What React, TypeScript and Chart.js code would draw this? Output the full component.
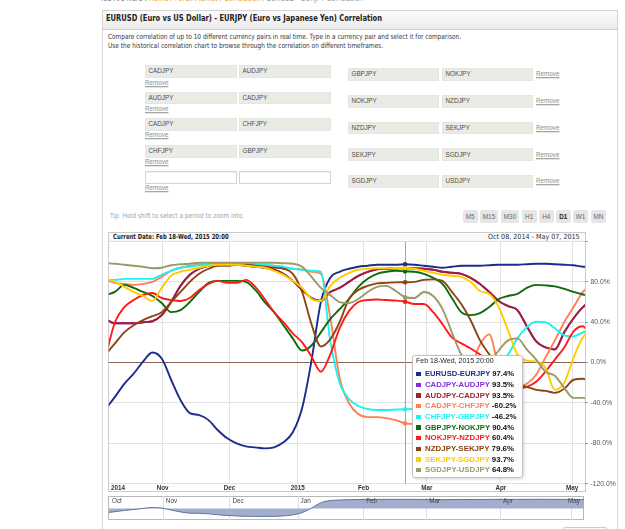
import React, { useEffect, useLayoutEffect, useRef } from 'react';
import { Chart, registerables } from 'chart.js';

Chart.register(...registerables);

const SANS = '"Liberation Sans", Arial, sans-serif';
const VSANS = '"DejaVu Sans", Verdana, sans-serif';
Chart.defaults.font.family = SANS;

// ---------------- data ----------------
// trading-session index of each sample (Oct 08 2014 = 0 ... May 07 2015 ≈ 152.7)
const SESSION_INDEX = [-1, 2, 5, 8, 11, 14, 17, 20, 23, 26, 29, 32, 35, 38, 41, 44, 47, 50, 53, 56, 59, 62, 65, 68, 71, 74, 77, 80, 83, 86, 89, 92, 95, 98, 101, 104, 107, 110, 113, 116, 119, 122, 125, 128, 131, 134, 137, 140, 143, 146, 149, 152, 155];
const X_MIN = 0;
const X_MAX = 152.66;
const MONTH_TICK_POS = [3.0, 17.3, 38.7, 60.6, 81.7, 102.0, 125.7, 148.5];
const MONTH_TICK_LABELS = ['2014', 'Nov', 'Dec', '2015', 'Feb', 'Mar', 'Apr', 'May'];
const NAV_TICK_POS = [0, 17.3, 38.7, 60.6, 81.7, 102.0, 125.7, 148.5];
const NAV_TICK_LABELS = ['Oct', 'Nov', 'Dec', 'Jan', 'Feb', 'Mar', 'Apr', 'May'];
const Y_TICKS = [-120, -80, -40, 0, 40, 80, 120];

const EURUSD_EURJPY = [-46, -34, -21, -11, 1, 10, 4, -17, -37, -50, -52, -57, -67, -75, -80, -83, -84, -85, -84, -79, -69, -45, 2, 60, 84, 90, 93, 95, 96, 97, 97, 97, 97.4, 97, 96, 95, 94, 95, 96, 96, 96, 96.5, 97, 97, 97, 97.5, 98, 98, 97.5, 97, 96.5, 95, 95];
const CADJPY_AUDJPY = [43, 39, 39, 39, 40, 41, 47, 60, 76, 87, 93, 96, 97.5, 97.5, 97, 96, 95, 94, 92, 88, 81, 72, 64, 61, 70, 74, 80, 86, 90, 92.5, 93, 93.5, 93.5, 93.5, 93, 92, 90, 89, 88, 84, 78, 70, 61, 56, 52, 36, 21, 15, 13, 30, 44, 55, 62];
const AUDJPY_CADJPY = [43, 39, 39, 39, 40, 41, 47, 60, 76, 87, 93, 96, 97.5, 97.5, 97, 96, 95, 94, 92, 88, 81, 72, 64, 61, 70, 74, 80, 86, 90, 92.5, 93, 93.5, 93.5, 93.5, 93, 92, 90, 89, 88, 84, 78, 70, 61, 56, 52, 36, 21, 15, 13, 30, 44, 55, 62];
const CADJPY_CHFJPY = [82, 79, 78, 77, 78, 80, 85, 91, 94, 96, 97, 97.5, 98, 98, 97.5, 97, 97, 96.5, 96, 94, 93, 92, 90, 88, 45, -15, -40, -51, -54, -54, -55, -57, -60.2, -61, -60, -55, -45, -30, -15, -5, 18, 28, -5, -20, -24, -21, -12, 5, 22, 40, 55, 70, 78];
const CHFJPY_GBPJPY = [82, 82, 83, 83, 83, 83, 87, 91, 94, 95, 96.5, 97, 97.5, 97.5, 97.5, 97.5, 97, 97, 96, 95, 93, 92, 91, 90, 22, -20, -36, -43, -46, -47, -47, -46.5, -46.2, -46, -46, -44, -38, -30, -22, -16, -12, -8, -2, 8, 24, 35, 40.5, 40, 34, 27, 26, 30, 32];
const GBPJPY_NOKJPY = [67, 70, 77, 74, 70, 66, 59, 50, 52, 60, 70, 79, 81, 81, 81, 80, 72, 60, 50, 37, 24, 12, 17, 30, 43, 53, 63, 75, 83, 88, 90, 91, 90.4, 90, 88, 84, 78, 64, 50, 47, 49, 55, 63, 66, 68, 74, 77, 76.5, 75.5, 73, 70, 67.5, 66];
const NOKJPY_NZDJPY = [6, 40, 55, 62, 67, 69, 64, 62, 61, 64, 72, 78, 81, 79, 79, 82, 75, 63, 50, 40, 29, 20, 6, -9, 8, 34, 51, 60, 62, 62.5, 62, 61.5, 60.4, 58, 58, 50, 38, 25, 19, 14, 8, 0, -10, -20, -26, -24, -19, -9, 3, 15, 31, 36, 22];
const NZDJPY_SEKJPY = [8, 19, 30, 37, 42, 46, 50, 60, 70, 80, 88, 93, 96, 96, 97, 97, 96, 95, 94, 93, 88, 70, 38, 16, 23, 40, 63, 72, 76, 78.5, 79, 79.5, 79.6, 80, 82, 82.5, 81, 70, 58, 42, 22, 8, -5, -15, -22, -24, -27, -28, -30, -26, -17, -16, -21];
const SEKJPY_SGDJPY = [83, 80, 75, 70, 66, 61, 74, 86, 90, 92, 94, 96, 97, 97, 97, 96, 95, 94, 91, 87, 81, 74, 63, 61, 76, 84, 89, 92, 93, 93.5, 93.5, 93.7, 93.7, 93, 91, 89, 87, 86, 85, 80, 71, 68, 55, 32, 8, 2, 1, -5, -27, -20, 5, 25, 35];
const SGDJPY_USDJPY = [98.5, 98, 97, 96, 95, 93.5, 94, 96.5, 97.5, 98, 99, 99, 99, 99, 99, 99, 99, 99, 99, 98.5, 98, 95, 85, 74, 67, 60, 59, 63, 70, 75, 76, 71, 64.8, 64, 70, 66, 53, 30, 8, -2, -5, 0, 12, 22, 24, 13, 3, -9, -13, -25, -35, -35, -38];

const SERIES_NAMES = ['EURUSD-EURJPY', 'CADJPY-AUDJPY', 'AUDJPY-CADJPY', 'CADJPY-CHFJPY', 'CHFJPY-GBPJPY', 'GBPJPY-NOKJPY', 'NOKJPY-NZDJPY', 'NZDJPY-SEKJPY', 'SEKJPY-SGDJPY', 'SGDJPY-USDJPY'];
const SERIES_COLORS = ['#1c2c8c', '#8a2be2', '#a21f2f', '#ff7f50', '#1ff0f0', '#0c6a0c', '#ff1a1a', '#8b4513', '#ffcc00', '#9a9a68'];
const SERIES_VALUES = [EURUSD_EURJPY, CADJPY_AUDJPY, AUDJPY_CADJPY, CADJPY_CHFJPY, CHFJPY_GBPJPY, GBPJPY_NOKJPY, NOKJPY_NZDJPY, NZDJPY_SEKJPY, SEKJPY_SGDJPY, SGDJPY_USDJPY];

const CROSS_INDEX = 32;
const CROSS_LABEL = 'Feb 18-Wed, 2015 20:00';
const RANGE_LABEL = 'Oct 08, 2014 - May 07, 2015';

const LEFT_PAIRS = [['CADJPY', 'AUDJPY'], ['AUDJPY', 'CADJPY'], ['CADJPY', 'CHFJPY'], ['CHFJPY', 'GBPJPY'], ['', '']];
const RIGHT_PAIRS = [['GBPJPY', 'NOKJPY'], ['NOKJPY', 'NZDJPY'], ['NZDJPY', 'SEKJPY'], ['SEKJPY', 'SGDJPY'], ['SGDJPY', 'USDJPY']];
const TIMEFRAMES = ['M5', 'M15', 'M30', 'H1', 'H4', 'D1', 'W1', 'MN'];
const ACTIVE_TIMEFRAME = 'D1';

// ---------------- layout (positions only) ----------------
const LEFT_ROW_TOP = [65, 91.7, 118, 145, 171];
const LEFT_REMOVE_Y = [82.6, 108.9, 135.3, 161.7, 187.9];
const RIGHT_ROW_TOP = [68, 95, 121.7, 148.3, 175];
const BTN_LEFT = [462.7, 480, 501, 521.7, 539, 556, 572.7, 591];
const BTN_W = [15, 18, 18, 15, 14.5, 14.5, 15.5, 15];

type TxtProps = {
  x: number; y: number; w?: number; sx?: number; size: number; color?: string;
  bold?: boolean; family?: string; underline?: boolean; children: React.ReactNode;
};

function Txt({ x, y, w, sx = 1, size, color = '#333', bold = false, family = SANS, underline = false, children }: TxtProps) {
  const ref = useRef<HTMLSpanElement>(null);
  useLayoutEffect(() => {
    const el = ref.current;
    if (!el) return;
    let k = sx;
    if (w) {
      const nat = el.getBoundingClientRect().width / sx;
      if (nat > 0) k = w / nat;
    }
    el.style.transform = `translateY(-50%) scaleX(${k})`;
  }, [w, sx]);
  return (
    <span
      ref={ref}
      style={{
        position: 'absolute', left: x, top: y, display: 'inline-block', whiteSpace: 'nowrap',
        fontSize: size, lineHeight: 1.2, fontFamily: family, fontWeight: bold ? 700 : 400, color,
        textDecoration: underline ? 'underline' : 'none', transformOrigin: '0 50%',
        transform: `translateY(-50%) scaleX(${sx})`,
      }}
    >
      {children}
    </span>
  );
}

function MainChart() {
  const ref = useRef<HTMLCanvasElement>(null);
  useEffect(() => {
    const crosshair = {
      id: 'crosshair',
      beforeDatasetsDraw(chart: any) {
        const { ctx, chartArea, scales } = chart;
        const x = Math.round(scales.x.getPixelForValue(SESSION_INDEX[CROSS_INDEX])) + 0.5;
        ctx.save();
        ctx.strokeStyle = '#a4a4a4';
        ctx.lineWidth = 1;
        ctx.beginPath();
        ctx.moveTo(x, chartArea.top);
        ctx.lineTo(x, chartArea.bottom);
        ctx.stroke();
        ctx.restore();
      },
    };
    const chart = new Chart(ref.current as HTMLCanvasElement, {
      type: 'line',
      data: {
        datasets: SERIES_VALUES.map((vals, k) => ({
          label: SERIES_NAMES[k],
          data: vals.map((v, i) => ({ x: SESSION_INDEX[i], y: v })),
          borderColor: SERIES_COLORS[k],
          backgroundColor: SERIES_COLORS[k],
          borderWidth: 1.9,
          cubicInterpolationMode: 'monotone',
          fill: false,
          pointRadius: (c: any) => (c.dataIndex === CROSS_INDEX ? 2.3 : 0),
          pointBorderWidth: 0,
          order: -k,
        })),
      },
      options: {
        responsive: false,
        animation: false,
        events: [],
        layout: { padding: { left: 0.7, top: 0.5, right: 0, bottom: 0 } },
        plugins: { legend: { display: false }, tooltip: { enabled: false } },
        scales: {
          x: {
            type: 'linear',
            min: X_MIN,
            max: X_MAX,
            bounds: 'data',
            afterBuildTicks: (scale: any) => { scale.ticks = MONTH_TICK_POS.map((v) => ({ value: v })); },
            afterFit: (scale: any) => { scale.height = 9.3; scale.paddingLeft = 0; scale.paddingRight = 0; },
            ticks: {
              autoSkip: false, maxRotation: 0, minRotation: 0, padding: 1,
              font: { family: SANS, size: 6.3, weight: 'bold' }, color: '#333',
              callback: (_v: any, i: number) => MONTH_TICK_LABELS[i],
            },
            grid: {
              drawTicks: false,
              color: (c: any) => (c.tick && c.tick.value === MONTH_TICK_POS[0] ? 'rgba(0,0,0,0)' : '#e3e3e3'),
            },
            border: { display: false },
          },
          y: {
            type: 'linear',
            position: 'right',
            min: -120,
            max: 120,
            afterBuildTicks: (scale: any) => { scale.ticks = Y_TICKS.map((v) => ({ value: v })); },
            afterFit: (scale: any) => { scale.width = 40; scale.paddingTop = 0; scale.paddingBottom = 0; },
            ticks: {
              padding: 2.5, font: { family: SANS, size: 6.8 }, color: '#555',
              callback: (v: any) => (v === 120 ? '' : `${Number(v).toFixed(1)}%`),
            },
            grid: {
              color: (c: any) => (c.tick && c.tick.value === 0 ? '#8a6656' : '#e1e1e1'),
              tickColor: '#7f9fd3',
              tickLength: 3,
            },
            border: { display: false },
          },
        },
      } as any,
      plugins: [crosshair],
    } as any);
    return () => chart.destroy();
  }, []);
  return <canvas ref={ref} width={517} height={252} style={{ position: 'absolute', left: 108, top: 241, width: 517, height: 252 }} />;
}

function Navigator() {
  const ref = useRef<HTMLCanvasElement>(null);
  useEffect(() => {
    const navDecor = {
      id: 'navDecor',
      beforeDatasetsDraw(chart: any) {
        const { ctx, chartArea, scales } = chart;
        ctx.save();
        ctx.strokeStyle = '#dedede';
        ctx.lineWidth = 1;
        NAV_TICK_POS.forEach((v) => {
          if (v <= X_MIN) return;
          const x = Math.round(scales.x.getPixelForValue(v)) + 0.5;
          ctx.beginPath();
          ctx.moveTo(x, chartArea.top);
          ctx.lineTo(x, chartArea.bottom);
          ctx.stroke();
        });
        ctx.restore();
      },
      afterDatasetsDraw(chart: any) {
        const { ctx, chartArea, scales } = chart;
        ctx.save();
        ctx.font = `6.3px ${SANS}`;
        ctx.fillStyle = '#444';
        ctx.textBaseline = 'middle';
        NAV_TICK_POS.forEach((v, i) => {
          const w = ctx.measureText(NAV_TICK_LABELS[i]).width;
          const x = Math.min(scales.x.getPixelForValue(v) + 3, chartArea.right - w - 4);
          ctx.fillText(NAV_TICK_LABELS[i], x, chartArea.top + 5);
        });
        ctx.restore();
      },
    };
    const chart = new Chart(ref.current as HTMLCanvasElement, {
      type: 'line',
      data: {
        datasets: [{
          label: SERIES_NAMES[0],
          data: EURUSD_EURJPY.map((v, i) => ({ x: SESSION_INDEX[i], y: v })),
          borderColor: '#62719f',
          backgroundColor: '#a3aece',
          borderWidth: 1,
          fill: 'origin',
          pointRadius: 0,
          cubicInterpolationMode: 'monotone',
        }],
      },
      options: {
        responsive: false,
        animation: false,
        events: [],
        layout: { padding: 0 },
        plugins: { legend: { display: false }, tooltip: { enabled: false } },
        scales: {
          x: { type: 'linear', min: X_MIN, max: X_MAX, bounds: 'data', display: false },
          y: { type: 'linear', min: -123, max: 133, display: false },
        },
      } as any,
      plugins: [navDecor],
    } as any);
    return () => chart.destroy();
  }, []);
  return <canvas ref={ref} width={475} height={24} style={{ position: 'absolute', left: 108.5, top: 496, width: 475, height: 24 }} />;
}

function TooltipBox() {
  return (
    <div style={{
      position: 'absolute', left: 412.3, top: 355, width: 110.7, height: 123, boxSizing: 'border-box',
      border: '1px solid #c2c2c2', borderRadius: 3, background: 'rgba(255,255,255,0.97)',
      boxShadow: '1px 1px 3px rgba(0,0,0,0.18)',
    }}>
      <Txt x={2.5} y={5.3} w={77.7} size={7.2} color="#1e1e1e">{CROSS_LABEL}</Txt>
      {SERIES_NAMES.map((name, k) => {
        const cy = 18.3 + k * 10.65;
        const v = SERIES_VALUES[k][CROSS_INDEX];
        return (
          <React.Fragment key={name}>
            <div style={{ position: 'absolute', left: 3.2, top: cy - 2.2, width: 4.4, height: 4.4, background: SERIES_COLORS[k] }} />
            <Txt x={11.5} y={cy} w={k === 3 || k === 4 ? 91.5 : 89} size={7.8} bold color={SERIES_COLORS[k]}>
              {name}
              <span style={{ color: '#111' }}>{` ${v.toFixed(1)}%`}</span>
            </Txt>
          </React.Fragment>
        );
      })}
    </div>
  );
}

export default function App() {
  return (
    <div style={{ position: 'fixed', left: 0, top: 0, width: 625, height: 529, overflow: 'hidden', background: '#fff', fontFamily: SANS }}>
      {/* breadcrumb (cut off at top) */}
      <Txt x={100} y={-0.6} w={263} size={8} color="#777" family={VSANS}>
        {'You Are Here : '}
        <span style={{ color: '#f0a23a' }}>Home / Forex Market / Correlation</span>
        <span style={{ color: '#9a9a9a' }}>{' / EURUSD - EURJPY Correlation'}</span>
      </Txt>

      {/* panel */}
      <div style={{ position: 'absolute', left: 102, top: 10, width: 515.5, height: 540, boxSizing: 'border-box', border: '1px solid #d8d8d8' }} />
      <div style={{ position: 'absolute', left: 102, top: 10, width: 515.5, height: 19.5, boxSizing: 'border-box', border: '1px solid #d2d2d2', background: 'linear-gradient(#fcfcfc, #ebebeb)' }} />
      <Txt x={105.7} y={19} w={276} size={8.2} bold color="#222" family={VSANS}>
        EURUSD (Euro vs US Dollar) - EURJPY (Euro vs Japanese Yen) Correlation
      </Txt>
      <Txt x={108.3} y={37.4} w={353} size={7.2} color="#333" family={VSANS}>
        Compare correlation of up to 10 different currency pairs in real time. Type in a currency pair and select it for comparison.
      </Txt>
      <Txt x={108.3} y={45.9} w={275} size={7.2} color="#333" family={VSANS}>
        Use the historical correlation chart to browse through the correlation on different timeframes.
      </Txt>

      {/* currency pair inputs - left column */}
      {LEFT_PAIRS.map((pair, r) => (
        <React.Fragment key={`l${r}`}>
          {pair.map((p, c) => {
            const left = c === 0 ? 145 : 239;
            const empty = p === '';
            return (
              <React.Fragment key={c}>
                <div style={{
                  position: 'absolute', left, top: LEFT_ROW_TOP[r], width: 91.7, height: 12.7, boxSizing: 'border-box',
                  background: empty ? '#fff' : '#ebebe6', border: empty ? '1px solid #d4d4d4' : '1px solid #e6e6e1',
                  boxShadow: empty ? 'inset 0 1px 1px rgba(0,0,0,0.06)' : 'none',
                }} />
                {!empty && <Txt x={left + 3.5} y={LEFT_ROW_TOP[r] + 6.3} size={6.3} color="#4d4d4d">{p}</Txt>}
              </React.Fragment>
            );
          })}
          <Txt x={145} y={LEFT_REMOVE_Y[r]} size={6.3} color="#8c8c8c" underline>Remove</Txt>
        </React.Fragment>
      ))}

      {/* currency pair inputs - right column */}
      {RIGHT_PAIRS.map((pair, r) => (
        <React.Fragment key={`r${r}`}>
          {pair.map((p, c) => {
            const left = c === 0 ? 348 : 442;
            return (
              <React.Fragment key={c}>
                <div style={{ position: 'absolute', left, top: RIGHT_ROW_TOP[r], width: 91.3, height: 12.7, boxSizing: 'border-box', background: '#ebebe6', border: '1px solid #e6e6e1' }} />
                <Txt x={left + 3.5} y={RIGHT_ROW_TOP[r] + 6.3} size={6.3} color="#4d4d4d">{p}</Txt>
              </React.Fragment>
            );
          })}
          <Txt x={536} y={RIGHT_ROW_TOP[r] + 6.3} size={6.3} color="#8c8c8c" underline>Remove</Txt>
        </React.Fragment>
      ))}

      {/* tip + timeframe buttons */}
      <Txt x={110} y={216.2} w={134} size={7} color="#9aa2ab" family={VSANS}>Tip: Hold shift to select a period to zoom into.</Txt>
      {TIMEFRAMES.map((tf, i) => (
        <div key={tf} style={{
          position: 'absolute', left: BTN_LEFT[i], top: 210, width: BTN_W[i], height: 12.7, background: '#e6e6e6', borderRadius: 2,
          display: 'flex', alignItems: 'center', justifyContent: 'center', fontFamily: SANS, fontSize: 6.4,
          color: tf === ACTIVE_TIMEFRAME ? '#222' : '#666', fontWeight: tf === ACTIVE_TIMEFRAME ? 700 : 400,
        }}>{tf}</div>
      ))}

      {/* chart container */}
      <div style={{ position: 'absolute', left: 108, top: 231.5, width: 477.5, height: 260.5, boxSizing: 'border-box', border: '1px solid #cbcbcb' }} />
      <div style={{ position: 'absolute', left: 108, top: 231.5, width: 477.5, height: 10.5, boxSizing: 'border-box', border: '1px solid #cbcbcb', background: '#fafafa' }} />
      <Txt x={112.7} y={236.6} w={115.6} size={7} bold color="#222" family={VSANS}>{`Current Date: ${CROSS_LABEL}`}</Txt>
      <Txt x={488.3} y={236.6} w={91.7} size={7} color="#333" family={VSANS}>{RANGE_LABEL}</Txt>

      <MainChart />

      {/* navigator */}
      <div style={{ position: 'absolute', left: 108.3, top: 495.7, width: 475.5, height: 24.6, boxSizing: 'border-box', border: '1px solid #b8b8b8' }} />
      <Navigator />

      <TooltipBox />

      {/* partially visible button at bottom right */}
      <div style={{ position: 'absolute', left: 562, top: 526.5, width: 46, height: 12, boxSizing: 'border-box', border: '1px solid #cdcdcd', borderRadius: 3, background: '#fafafa' }} />
    </div>
  );
}
